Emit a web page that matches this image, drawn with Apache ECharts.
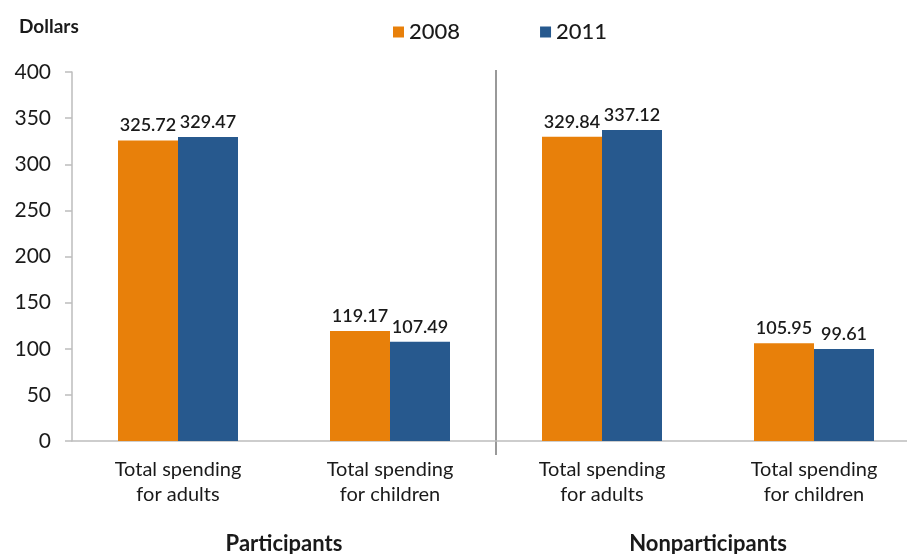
<!DOCTYPE html>
<html>
<head>
<meta charset="utf-8">
<script src="https://cdn.jsdelivr.net/npm/echarts@6/dist/echarts.min.js"></script>
<style>
  html, body { margin: 0; padding: 0; background: #fff; }
  #chart { width: 907px; height: 554px; }
</style>
</head>
<body>
<div id="chart"></div>
<script>
  // 数据
  var categories = ['Total spending\nfor adults', 'Total spending\nfor children', 'Total spending\nfor adults', 'Total spending\nfor children'];
  var groups = ['Participants', 'Nonparticipants'];
  var values2008 = [325.72, 119.17, 329.84, 105.95];
  var values2011 = [329.47, 107.49, 337.12, 99.61];

  var font = 'Lato';
  var chart = echarts.init(document.getElementById('chart'));

  var labelStyle = {
    show: true,
    position: 'top',
    distance: 6,
    color: '#1a1a1a',
    fontFamily: font,
    fontSize: 18,
    fontWeight: 600,
    formatter: function (p) { return p.value.toFixed(2); }
  };

  chart.setOption({
    animation: false,
    title: {
      text: 'Dollars',
      left: 14,
      top: 12,
      textStyle: { fontFamily: font, fontSize: 19, fontWeight: 'bold', color: '#1a1a1a' }
    },
    legend: {
      data: ['2008', '2011'],
      left: 388,
      top: 16,
      itemWidth: 11,
      itemHeight: 11,
      itemGap: 80,
      icon: 'rect',
      textStyle: { fontFamily: font, fontSize: 22, fontWeight: 500, color: '#1a1a1a' }
    },
    grid: { left: 72, top: 72, bottom: 113, width: 848, outerBoundsMode: 'none' },
    xAxis: [
      {
        type: 'category',
        data: categories,
        axisLine: { lineStyle: { color: '#bdbdbd', width: 1.5 } },
        axisTick: { length: 7, lineStyle: { color: '#bdbdbd', width: 1.5 } },
        axisLabel: { margin: 16, fontFamily: font, fontSize: 20, color: '#1a1a1a', lineHeight: 25 }
      },
      {
        type: 'category',
        data: groups,
        position: 'bottom',
        offset: 84,
        axisLine: { show: false },
        axisTick: { show: false },
        axisLabel: { fontFamily: font, fontSize: 22, fontWeight: 'bold', color: '#1a1a1a' }
      }
    ],
    yAxis: {
      type: 'value',
      min: 0,
      max: 400,
      interval: 50,
      splitLine: { show: false },
      axisLine: { show: true, lineStyle: { color: '#bdbdbd', width: 1.5 } },
      axisTick: { show: true, length: 7, lineStyle: { color: '#bdbdbd', width: 1.5 } },
      axisLabel: { margin: 21, fontFamily: font, fontSize: 21, color: '#1a1a1a' }
    },
    series: [
      {
        name: '2008',
        type: 'bar',
        xAxisIndex: 0,
        data: values2008,
        barWidth: 60,
        barGap: '0%',
        itemStyle: { color: '#E8800A' },
        label: labelStyle
      },
      {
        name: '2011',
        type: 'bar',
        xAxisIndex: 0,
        data: values2011,
        barWidth: 60,
        barGap: '0%',
        itemStyle: { color: '#27598E' },
        label: labelStyle
      }
    ]
  });

  // 分隔线：在第2和第3个类目之间（用索引换算像素）
  var x1 = chart.convertToPixel({ xAxisIndex: 0 }, 1);
  var x2 = chart.convertToPixel({ xAxisIndex: 0 }, 2);
  var yTop = chart.convertToPixel({ yAxisIndex: 0 }, 400);
  var yZero = chart.convertToPixel({ yAxisIndex: 0 }, 0);
  var xDiv = (x1 + x2) / 2;
  chart.setOption({
    graphic: [{
      type: 'line',
      shape: { x1: xDiv, y1: yTop - 2, x2: xDiv, y2: yZero + 14 },
      style: { stroke: '#555', lineWidth: 1.2 }
    }]
  });
</script>
</body>
</html>
